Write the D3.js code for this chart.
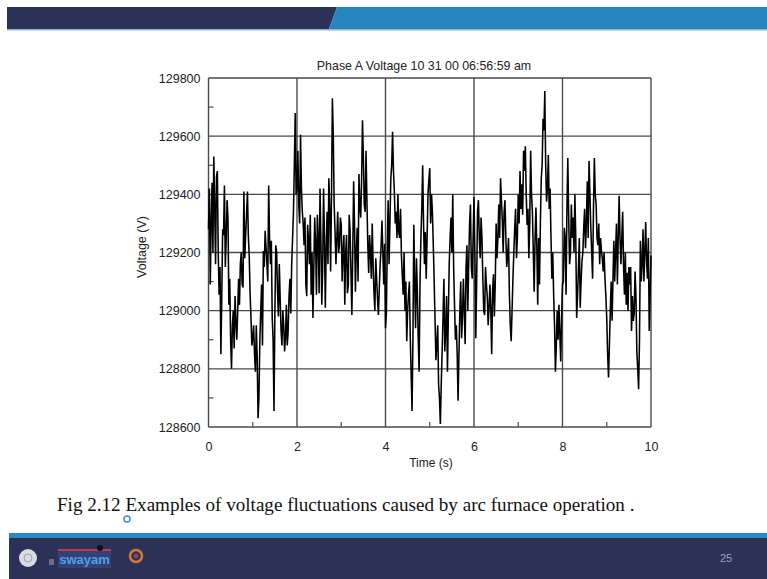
<!DOCTYPE html>
<html>
<head>
<meta charset="utf-8">
<script src="https://cdn.jsdelivr.net/npm/d3@7"></script>
<style>
  html, body { margin: 0; padding: 0; background: #fff; }
  svg { display: block; }
</style>
</head>
<body>
<div id="chart"></div>
<script>
// chart data
const chartTitle = "Phase A Voltage 10 31 00 06:56:59 am";
const xLabel = "Time (s)";
const yLabel = "Voltage (V)";
const caption = "Fig 2.12 Examples of voltage fluctuations caused by arc furnace operation .";
const pageNumber = "25";

const xTicks = [0, 2, 4, 6, 8, 10];
const xMinorTicks = [1, 3, 5, 7, 9];
const yTicks = [128600, 128800, 129000, 129200, 129400, 129600, 129800];
const yMinorTicks = [128700, 128900, 129100, 129300, 129500, 129700];

// samples at t = 0, 0.04, 0.08 ... 10 s
const voltage = [
  129280, 129090, 129440, 129530, 129160, 129480, 129055, 128850, 129280, 129430,
  129250, 129320, 129110, 128800, 129000, 129050, 128900, 129110, 129160, 129090,
  129410, 129260, 129410, 129190, 128975, 128905, 128850, 128950, 128630, 128895,
  129090, 129205, 129275, 129160, 129430, 129160, 128975, 128655, 129225, 129065,
  129160, 128930, 129000, 128860, 129020, 128930, 129110, 129160, 129340, 129680,
  129420, 129365, 129605, 129340, 129225, 129090, 129295, 129160, 129055, 128975,
  129320, 129055, 129250, 129420, 129020, 129420, 129010, 129340, 129455, 129135,
  129730, 129365, 129160, 129340, 129225, 129295, 129205, 129020, 129260, 129090,
  129275, 128985, 129445, 129065, 129285, 129470, 129320, 129655, 129365, 129550,
  129225, 129260, 129110, 129160, 129000, 129110, 128985, 129160, 129310, 129090,
  128940, 129225, 129160, 129455, 129615, 129410, 129340, 129400, 129250, 129190,
  129055, 129000, 128895, 129055, 128905, 128655, 129295, 128940, 129065, 128790,
  129250, 129500, 129160, 129110, 129400, 129490, 129400, 129225, 128965, 128885,
  128745, 128610, 128860, 129110, 128930, 128790, 129160, 129320, 129400, 129020,
  128950, 128690, 129000, 128905, 129110, 128885, 129225, 129160, 129365, 129110,
  129390, 128905, 129340, 129250, 129320, 129110, 128985, 129090, 128950, 129090,
  128850, 129125, 129090, 129180, 129365, 129455, 129310, 129340, 129250, 129190,
  129055, 128895, 129110, 129285, 129180, 129400, 129480, 129435, 129550, 129565,
  129295, 129180, 129550, 129340, 129065, 129355, 129020, 129090, 129455, 129660,
  129755, 129375, 129535, 129420, 129110, 129055, 128790, 129000, 129020, 128825,
  129090, 129285, 129055, 129525, 129160, 129365, 129320, 129400, 128975, 129145,
  129010, 129170, 129285, 129215, 129445, 129515, 129285, 129110, 129525, 129365,
  129225, 129160, 129205, 129135, 129110, 128975, 128770, 129000, 128965, 129240,
  129205, 129090, 129395, 129160, 129340, 129055, 129020, 129000, 129090, 128930,
  128965, 129135, 128860, 128730, 129240, 129160, 129100, 129305, 129110, 128930,
  129190
];

// in-between samples at t = 0.02, 0.06 ... 9.98 s
const voltageMid = [
  129420, 129300, 129200, 129350, 129460, 129200, 129150, 129050, 129260, 129150,
  129380, 129020, 128900, 128950, 128870, 128960, 129000, 129020, 129200, 129080,
  129180, 129330, 129260, 129060, 128880, 128950, 128790, 128840, 128700, 129000,
  128880, 129150, 129220, 129100, 129250, 129240, 128900, 128990, 129200, 128980,
  129040, 128880, 128950, 128910, 128880, 129050, 128990, 129250, 129500, 129400,
  129550, 129300, 129420, 129300, 129320, 129050, 129240, 129330, 129200, 129150,
  129230, 129330, 129060, 129250, 129140, 129250, 129220, 129160, 129350, 129400,
  129600, 129270, 129250, 129200, 129320, 129100, 129260, 129200, 129060, 129330,
  129130, 129200, 129300, 129200, 129100, 129360, 129450, 129530, 129340, 129380,
  129130, 129200, 129300, 129060, 129180, 129040, 129080, 129220, 129200, 129230,
  128990, 129380, 129300, 129500, 129480, 129300, 129250, 129270, 129350, 129120,
  129200, 129100, 129000, 129100, 128780, 128900, 129100, 129180, 128900, 129100,
  129350, 129300, 129270, 129250, 129450, 129300, 129340, 129100, 128830, 128950,
  128700, 128750, 128980, 128860, 129050, 128980, 129250, 129200, 129150, 128900,
  128850, 128850, 129100, 128980, 129000, 129150, 129000, 129300, 129150, 129250,
  129200, 129100, 129380, 129180, 129250, 129000, 129150, 129050, 129010, 129000,
  129070, 128980, 129300, 129250, 129250, 129380, 129200, 129380, 129150, 129250,
  128950, 129000, 129200, 129350, 129250, 129300, 129350, 129330, 129480, 129400,
  129350, 129300, 129400, 129200, 129250, 129220, 129250, 129300, 129500, 129620,
  129500, 129420, 129350, 129250, 129200, 128950, 128880, 128900, 128920, 128980,
  129100, 129250, 129350, 129320, 129200, 129250, 129200, 129250, 129050, 129250,
  129100, 129200, 129350, 129300, 129250, 129400, 129200, 129350, 129400, 129250,
  129300, 129250, 129180, 129200, 129050, 128850, 128880, 129100, 129100, 129100,
  129300, 129250, 129250, 129250, 129150, 129200, 129130, 129150, 129150, 129050,
  128990, 129050, 128800, 128900, 129100, 129280, 129200, 129170, 129250, 129050
];
const sampleInterval = 0.02;

// merge the two sample sets into one trace
const trace = [];
voltage.forEach((v, i) => {
  trace.push(v);
  if (i < voltageMid.length) trace.push(voltageMid[i]);
});

const W = 767, H = 579;
const svg = d3.select("#chart").append("svg")
  .attr("width", W)
  .attr("height", H);

// slide frame: top banner
svg.append("rect").attr("x", 0).attr("y", 0).attr("width", W).attr("height", H).attr("fill", "#fff");
svg.append("polygon")
  .attr("points", "7,7 337,7 329,29 7,29")
  .attr("fill", "#2b3157");
svg.append("polygon")
  .attr("points", "337,7 767,7 767,29 329,29")
  .attr("fill", "#2786bf");
svg.append("rect").attr("x", 7).attr("y", 29).attr("width", W - 7).attr("height", 1.5)
  .attr("fill", "#8fb6d6");

// bottom banner
svg.append("rect").attr("x", 9).attr("y", 533).attr("width", W - 9).attr("height", 5)
  .attr("fill", "#2a8ac4");
svg.append("rect").attr("x", 9).attr("y", 538).attr("width", W - 9).attr("height", H - 538)
  .attr("fill", "#2b3157");
const logos = svg.append("g");
logos.append("circle").attr("cx", 28).attr("cy", 558).attr("r", 9).attr("fill", "#d8dbe3");
logos.append("circle").attr("cx", 28).attr("cy", 558).attr("r", 4).attr("fill", "none")
  .attr("stroke", "#9aa0b0").attr("stroke-width", 1);
logos.append("rect").attr("x", 58).attr("y", 549).attr("width", 53).attr("height", 19)
  .attr("fill", "#34407a");
logos.append("rect").attr("x", 58).attr("y", 549).attr("width", 53).attr("height", 2)
  .attr("fill", "#c0394a");
logos.append("text").attr("x", 84.5).attr("y", 564).attr("text-anchor", "middle")
  .attr("font-family", "Liberation Sans Narrow, Liberation Sans, Arial, sans-serif")
  .attr("font-size", 13).attr("font-weight", "bold").attr("fill", "#4fa3e0").text("swayam");
logos.append("circle").attr("cx", 100).attr("cy", 548).attr("r", 3).attr("fill", "#111");
logos.append("rect").attr("x", 49).attr("y", 559).attr("width", 5).attr("height", 6).attr("fill", "#6a6f86");
logos.append("circle").attr("cx", 136).attr("cy", 556).attr("r", 6).attr("fill", "none")
  .attr("stroke", "#d77a3a").attr("stroke-width", 2.5);
logos.append("circle").attr("cx", 136).attr("cy", 556).attr("r", 2.5).attr("fill", "#7a4a5a");
svg.append("text").attr("x", 726).attr("y", 562).attr("text-anchor", "middle")
  .attr("font-family", "Liberation Sans Narrow, Liberation Sans, sans-serif")
  .attr("font-size", 11).attr("fill", "#9ea3b8").text(pageNumber);

// plot
const plot = { left: 208.5, right: 651, top: 78, bottom: 427 };
const x = d3.scaleLinear().domain([0, 10]).range([plot.left, plot.right]);
const y = d3.scaleLinear().domain([128600, 129800]).range([plot.bottom, plot.top]);
const axisFont = "Liberation Sans, Arial, Helvetica, sans-serif";
const gridColor = "#4a4a4a";

const g = svg.append("g");

// grid
g.append("g").selectAll("line").data(yTicks).join("line")
  .attr("x1", plot.left).attr("x2", plot.right)
  .attr("y1", d => y(d)).attr("y2", d => y(d))
  .attr("stroke", gridColor).attr("stroke-width", 1.4);
g.append("g").selectAll("line").data(xTicks).join("line")
  .attr("x1", d => x(d)).attr("x2", d => x(d))
  .attr("y1", plot.top).attr("y2", plot.bottom)
  .attr("stroke", gridColor).attr("stroke-width", 1.4);

// minor ticks
g.append("g").selectAll("line").data(yMinorTicks).join("line")
  .attr("x1", plot.left).attr("x2", plot.left + 5)
  .attr("y1", d => y(d)).attr("y2", d => y(d))
  .attr("stroke", gridColor).attr("stroke-width", 1.2);
g.append("g").selectAll("line").data(xMinorTicks).join("line")
  .attr("x1", d => x(d)).attr("x2", d => x(d))
  .attr("y1", plot.bottom).attr("y2", plot.bottom - 5)
  .attr("stroke", gridColor).attr("stroke-width", 1.2);

// the voltage trace
const line = d3.line()
  .x((d, i) => x(i * sampleInterval))
  .y(d => y(d));
g.append("path")
  .datum(trace)
  .attr("d", line)
  .attr("fill", "none")
  .attr("stroke", "#000")
  .attr("stroke-width", 1.55)
  .attr("stroke-linejoin", "miter");

// axes labels (tick numbers only, the grid draws the lines)
const yAxis = d3.axisLeft(y).tickValues(yTicks).tickSize(0).tickPadding(8).tickFormat(d3.format("d"));
g.append("g").attr("transform", `translate(${plot.left},0)`).call(yAxis)
  .call(s => s.select(".domain").remove())
  .selectAll("text").attr("font-family", axisFont).attr("font-size", 12.5).attr("fill", "#222");
const xAxis = d3.axisBottom(x).tickValues(xTicks).tickSize(0).tickPadding(15).tickFormat(d3.format("d"));
g.append("g").attr("transform", `translate(0,${plot.bottom})`).call(xAxis)
  .call(s => s.select(".domain").remove())
  .selectAll("text").attr("font-family", axisFont).attr("font-size", 12.5).attr("fill", "#222");

svg.append("text").attr("x", 431).attr("y", 467).attr("text-anchor", "middle")
  .attr("font-family", axisFont).attr("font-size", 12).attr("fill", "#222").text(xLabel);
svg.append("text").attr("transform", "translate(146,247) rotate(-90)").attr("text-anchor", "middle")
  .attr("font-family", axisFont).attr("font-size", 12.5).attr("fill", "#222").text(yLabel);
svg.append("text").attr("x", 424).attr("y", 70).attr("text-anchor", "middle")
  .attr("font-family", axisFont).attr("font-size", 12.4).attr("fill", "#222").text(chartTitle);

// figure caption
svg.append("text").attr("x", 57).attr("y", 511)
  .attr("font-family", "Liberation Serif, Times New Roman, serif")
  .attr("font-size", 19.1).attr("fill", "#111").text(caption);
svg.append("circle").attr("cx", 127).attr("cy", 519).attr("r", 3)
  .attr("fill", "none").attr("stroke", "#3d8fd6").attr("stroke-width", 1.5);
</script>
</body>
</html>
